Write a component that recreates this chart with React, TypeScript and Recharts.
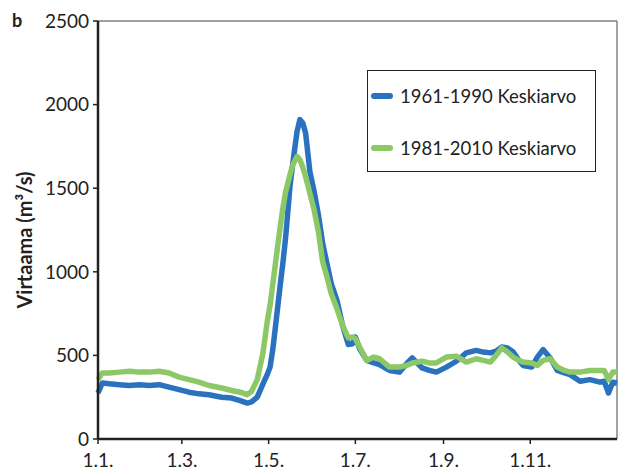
import React from 'react';
import { LineChart, Line, XAxis, YAxis, ReferenceLine } from 'recharts';

// day of year (0 = 1.1.)
const days = [
  0, 3, 8, 15, 22, 29, 36, 43, 50, 57, 64, 71, 78, 87, 94, 100, 105, 108, 112, 116,
  119, 121, 123, 126, 128, 130, 132, 135, 137, 140, 142, 144, 146, 149, 152, 155, 158, 161, 164, 168,
  172, 176, 179, 181, 184, 189, 194, 198, 205, 212, 217, 221, 228, 233, 238, 245, 252, 259, 266, 271,
  276, 280, 284, 288, 292, 296, 299, 305, 309, 313, 318, 323, 328, 332, 339, 346, 353, 356, 359, 362, 365,
];

const mean6190 = [
  275, 335, 330, 325, 320, 325, 320, 325, 310, 295, 280, 270, 265, 250, 245, 230, 215, 222, 250, 330,
  385, 430, 540, 760, 910, 1050, 1210, 1510, 1650, 1840, 1910, 1890, 1830, 1600, 1480, 1340, 1170, 1050, 930, 830,
  680, 565, 570, 610, 540, 470, 455, 445, 410, 400, 450, 485, 425, 410, 400, 430, 465, 515, 530, 520,
  515, 525, 550, 545, 520, 470, 440, 430, 490, 535, 485, 410, 395, 385, 345, 355, 340, 345, 275, 340, 335,
];

const mean8110 = [
  355, 395, 395, 400, 405, 400, 400, 405, 395, 370, 355, 340, 320, 305, 290, 280, 265, 285, 355, 515,
  700, 800, 930, 1130, 1260, 1380, 1480, 1580, 1640, 1690, 1670, 1625, 1570, 1470, 1370, 1240, 1060, 970, 870, 780,
  680, 605, 610, 600, 550, 470, 490, 480, 430, 430, 440, 455, 465, 455, 455, 490, 495, 460, 480, 470,
  460, 500, 545, 520, 490, 470, 460, 455, 440, 470, 480, 430, 410, 400, 400, 410, 410, 410, 355, 400, 400,
];

const seriesNames = ['1961-1990 Keskiarvo', '1981-2010 Keskiarvo'];
const monthTicks = [0, 59, 120, 181, 243, 304];
const monthLabels = ['1.1.', '1.3.', '1.5.', '1.7.', '1.9.', '1.11.'];
const yTicks = [0, 500, 1000, 1500, 2000, 2500];

const data = days.map((d, i) => ({ day: d, a: mean6190[i], b: mean8110[i] }));

const FONT = 'Lato, "Open Sans", sans-serif';
const BLUE = '#2a72bf';
const GREEN = '#8cc865';
const colors = [BLUE, GREEN];

export default function App() {
  return (
    <div style={{ position: 'absolute', left: 0, top: 0, width: 621, height: 473, background: '#fff' }}>
      <LineChart width={621} height={473} data={data} margin={{ top: 21, right: 4, left: 0, bottom: 0 }}>
        <XAxis
          dataKey="day"
          type="number"
          domain={[0, 365]}
          ticks={monthTicks}
          tickFormatter={(v: number) => monthLabels[monthTicks.indexOf(v)]}
          height={34}
          axisLine={{ stroke: '#222', strokeWidth: 2.5 }}
          tickLine={{ stroke: '#222', strokeWidth: 1.5 }}
          tickSize={5}
          tick={{ fill: '#222', fontSize: 19, fontFamily: FONT }}
          tickMargin={10}
        />
        <YAxis
          domain={[0, 2500]}
          ticks={yTicks}
          width={98}
          axisLine={{ stroke: '#222', strokeWidth: 2.5 }}
          tickLine={{ stroke: '#222', strokeWidth: 1.5 }}
          tickSize={5}
          tick={{ fill: '#222', fontSize: 19, fontFamily: FONT }}
          tickMargin={4}
        />
        <ReferenceLine y={2500} stroke="#444" strokeWidth={1.2} />
        <ReferenceLine x={365} stroke="#666" strokeWidth={1.2} />
        <Line
          dataKey="a"
          name={seriesNames[0]}
          stroke={BLUE}
          strokeWidth={5.5}
          dot={false}
          type="linear"
          strokeLinejoin="round"
          isAnimationActive={false}
        />
        <Line
          dataKey="b"
          name={seriesNames[1]}
          stroke={GREEN}
          strokeWidth={5.5}
          dot={false}
          type="linear"
          strokeLinejoin="round"
          isAnimationActive={false}
        />
      </LineChart>
      <div
        style={{
          position: 'absolute',
          left: 367,
          top: 70,
          width: 229,
          height: 102,
          border: '1px solid #222',
          boxSizing: 'border-box',
          background: '#fff',
          fontFamily: FONT,
          fontSize: 18.5,
          color: '#222',
          paddingTop: 13,
          paddingLeft: 3,
        }}
      >
        {seriesNames.map((name, i) => (
          <div key={name} style={{ display: 'flex', alignItems: 'center', height: 24, marginBottom: i === 0 ? 28 : 0 }}>
            <span style={{ display: 'inline-block', width: 22, height: 6, borderRadius: 3, background: colors[i], marginRight: 7 }} />
            <span>{name}</span>
          </div>
        ))}
      </div>
      <svg width={621} height={473} style={{ position: 'absolute', left: 0, top: 0, pointerEvents: 'none' }}>
        <text x={12} y={27} fontFamily={FONT} fontWeight="bold" fontSize={18} fill="#222">b</text>
        <text
          transform="translate(32, 240) rotate(-90)"
          textAnchor="middle"
          fontFamily={FONT}
          fontWeight="bold"
          fontSize={20}
          fill="#222"
        >
          Virtaama (m³/s)
        </text>
      </svg>
    </div>
  );
}
